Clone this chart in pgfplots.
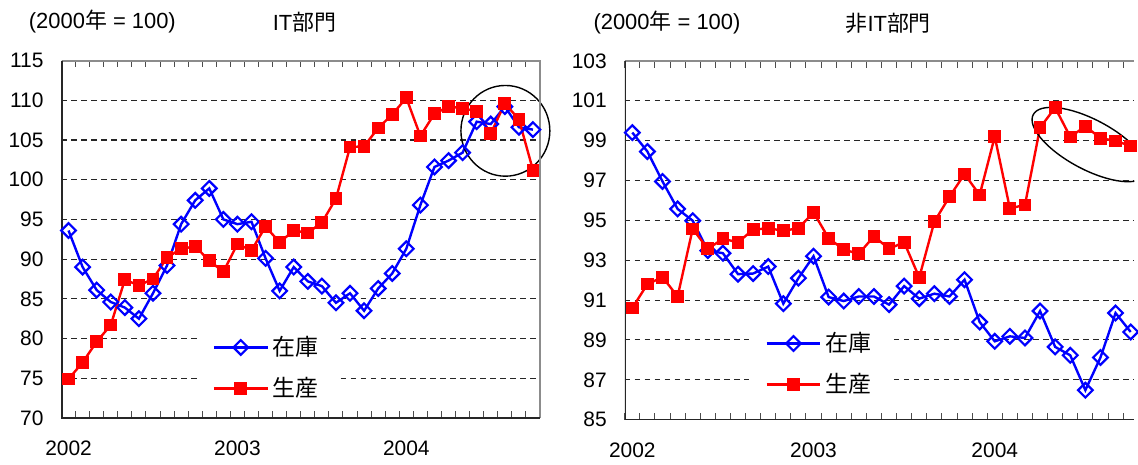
\documentclass[border=0pt]{standalone}
\usepackage{fontspec}
\setmainfont{Liberation Sans}
\newfontfamily\cjk{Noto Sans CJK JP}
\usepackage{pgfplots}
\pgfplotsset{compat=1.18}
\usepackage{pgfplotstable}

\pgfplotstableread{
i invIT prodIT invN prodN
0 93.6 74.9 99.4 90.6
1 89.0 77.0 98.45 91.8
2 86.1 79.6 96.95 92.15
3 84.6 81.7 95.57 91.18
4 83.9 87.4 94.98 94.57
5 82.5 86.7 93.48 93.57
6 85.7 87.5 93.35 94.07
7 89.2 90.2 92.3 93.9
8 94.4 91.3 92.33 94.53
9 97.4 91.6 92.68 94.6
10 98.9 89.8 90.82 94.48
11 95.0 88.4 92.1 94.6
12 94.4 91.9 93.2 95.4
13 94.7 91.1 91.15 94.1
14 90.1 94.1 90.95 93.53
15 86.0 92.1 91.18 93.32
16 89.0 93.6 91.18 94.2
17 87.2 93.3 90.77 93.57
18 86.6 94.6 91.7 93.9
19 84.5 97.6 91.07 92.13
20 85.7 104.1 91.32 94.93
21 83.5 104.2 91.18 96.18
22 86.3 106.5 92.02 97.32
23 88.2 108.2 89.9 96.27
24 91.3 110.3 88.93 99.2
25 96.8 105.5 89.18 95.6
26 101.6 108.3 89.1 95.77
27 102.4 109.2 90.45 99.65
28 103.4 109.0 88.65 100.65
29 107.3 108.6 88.23 99.18
30 107.0 105.8 86.48 99.72
31 109.2 109.6 88.12 99.12
32 106.6 107.6 90.35 98.98
33 106.3 101.2 89.4 98.73
}\chartdata

\pgfplotsset{
  panel/.style={
    scale only axis,
    anchor=south west,
    xmin=-0.5,
    xtick={-0.5,0.5,...,33.5},
    xticklabels={},
    tick align=inside,
    major tick length=3.5pt,
    x tick style={black!70, line width=0.5pt},
    extra x ticks={0,12,24},
    extra x tick labels={2002,2003,2004},
    extra x tick style={major tick length=0pt, grid=none, tick label style={yshift=-8pt}},
    ymajorgrids,
    y grid style={black!85, dash pattern=on 2.8pt off 2.2pt, line width=0.55pt},
    ytick style={draw=none},
    axis line style={draw=none},
    tick label style={font=\fontsize{10.5}{12}\selectfont},
    yticklabel style={xshift=-5.5pt},
    /pgf/number format/assume math mode=true,
    legend cell align=left,
    legend image code/.code={%
      \draw[mark repeat=2,mark phase=2,##1] plot coordinates {(0pt,0pt) (13.5pt,0pt) (27pt,0pt)};
    },
    legend style={draw=none, fill=white, inner xsep=8pt, inner ysep=3pt,
      row sep=5.5pt, anchor=north west, nodes={inner sep=2pt},
      font=\cjk\fontsize{11.5}{13}\selectfont},
  },
  invstyle/.style={blue, line width=1.2pt, mark=square, mark size=2.6pt,
    mark options={fill=white, line width=1.1pt, solid, rotate=45}},
  prodstyle/.style={red, line width=1.2pt, mark=square*, mark size=2.6pt,
    mark options={fill=red, solid}},
}

\begin{document}
\begin{tikzpicture}
\path (0,0) rectangle (569pt,230pt);

\node[anchor=west, inner sep=0pt, font=\fontsize{11}{13}\selectfont] at (14.3pt,219pt) {(2000{\cjk 年} = 100)};
\node[inner sep=0pt, font=\fontsize{11}{13}\selectfont] at (152.75pt,219pt) {IT{\cjk 部門}};
\node[anchor=west, inner sep=0pt, font=\fontsize{11}{13}\selectfont] at (297.5pt,218.5pt) {(2000{\cjk 年} = 100)};
\node[inner sep=0pt, font=\fontsize{11}{13}\selectfont] at (445.5pt,218.5pt) {{\cjk 非}IT{\cjk 部門}};

\begin{axis}[panel, at={(30.85pt,20.35pt)}, width=240pt, height=179.3pt,
  xmax=33.5, clip=false,
  ymin=70, ymax=115, ytick={70,75,...,115},
  legend style={at={(rel axis cs:0.2818,0.2574)}}]
\addplot[invstyle] table[x=i,y=invIT]{\chartdata};
\addplot[prodstyle] table[x=i,y=prodIT]{\chartdata};
\legend{在庫,生産}
\draw[black, line width=0.7pt] (axis cs:31.04,106.15) ellipse [x radius=22.3pt, y radius=22.75pt];
\draw[black!45, line width=1pt] (rel axis cs:0,1) -- (rel axis cs:1,1) -- (rel axis cs:1,0);
\draw[black!85, line width=1pt] (rel axis cs:0,1) -- (rel axis cs:0,0) -- (rel axis cs:1,0);
\end{axis}

\begin{axis}[panel, at={(313.35pt,19.5pt)}, width=255.65pt, height=180pt,
  xmax=33.25, clip=true,
  ymin=85, ymax=103, ytick={85,87,...,103},
  legend style={at={(rel axis cs:0.2438,0.2722)}}]
\addplot[invstyle] table[x=i,y=invN]{\chartdata};
\addplot[prodstyle] table[x=i,y=prodN]{\chartdata};
\legend{在庫,生産}
\draw[black, line width=0.7pt, rotate around={-28:(axis cs:30.28,98.8)}] (axis cs:30.28,98.8) ellipse [x radius=32pt, y radius=12.5pt];
\draw[black!45, line width=1pt] (rel axis cs:0,1) -- (rel axis cs:1,1);
\draw[black!85, line width=1pt] (rel axis cs:0,1) -- (rel axis cs:0,0) -- (rel axis cs:1,0);
\end{axis}

\end{tikzpicture}
\end{document}
